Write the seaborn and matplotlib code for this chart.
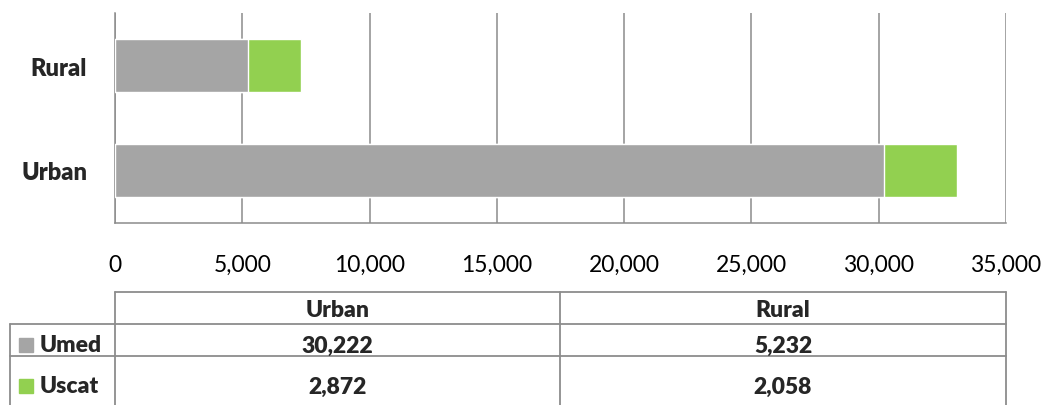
import pandas as pd
import matplotlib.pyplot as plt
import seaborn as sns
from matplotlib.lines import Line2D
from matplotlib.patches import Rectangle
from matplotlib.ticker import FuncFormatter

# =========================
# Data
# =========================
areas = ["Urban", "Rural"]
umed = [30222, 5232]
uscat = [2872, 2058]
series_names = ["Umed", "Uscat"]
series_colors = ["#A5A5A5", "#92D050"]
bar_order = ["Rural", "Urban"]

df = pd.DataFrame({"Area": areas, "Umed": umed, "Uscat": uscat})
df["Total"] = df["Umed"] + df["Uscat"]

# =========================
# Style
# =========================
sns.set_style("white")
plt.rcParams["font.family"] = ["Lato", "DejaVu Sans"]

W, H = 1048, 406
fig = plt.figure(figsize=(W / 100, H / 100), dpi=100)

def fx(px):
    return px / W

def fy(py):
    return 1 - py / H

ax = fig.add_axes([fx(115), fy(224), fx(1006) - fx(115), fy(14) - fy(224)])

# stacked bars: total (green) underneath, Umed (gray) on top
sns.barplot(data=df, y="Area", x="Total", order=bar_order, color=series_colors[1],
            width=0.51, saturation=1, ax=ax, zorder=3)
sns.barplot(data=df, y="Area", x="Umed", order=bar_order, color=series_colors[0],
            width=0.51, saturation=1, ax=ax, zorder=3)

grid_col = "#8C8C8C"
ax.set_xlim(0, 35000)
ax.set_ylim(1.5, -0.5)
ax.set_xticks(range(0, 35001, 5000))
ax.xaxis.set_major_formatter(FuncFormatter(lambda v, p: f"{int(v):,}"))
ax.grid(axis="x", color=grid_col, linewidth=1.1, zorder=0)
ax.set_axisbelow(True)
ax.set_xlabel("")
ax.set_ylabel("")
for s in ["top", "right"]:
    ax.spines[s].set_visible(False)
for s in ["left", "bottom"]:
    ax.spines[s].set_color(grid_col)
    ax.spines[s].set_linewidth(1.1)
ax.tick_params(axis="x", length=0, pad=22, labelsize=16.5, labelcolor="black")
ax.tick_params(axis="y", length=0, pad=20, labelsize=17)
for lbl in ax.get_yticklabels():
    lbl.set_fontweight("heavy")

# =========================
# Data table below the chart
# =========================
line_kw = dict(color=grid_col, linewidth=1.3, transform=fig.transFigure)
y_top, y_r1, y_r2, y_bot = 293, 325, 357, 410
x_left, x_c0, x_c1, x_right = 10, 115, 560, 1006

fig.add_artist(Line2D([fx(x_c0), fx(x_right)], [fy(y_top), fy(y_top)], **line_kw))
for yy in (y_r1, y_r2):
    fig.add_artist(Line2D([fx(x_left), fx(x_right)], [fy(yy), fy(yy)], **line_kw))
for xx in (x_c0, x_c1, x_right):
    fig.add_artist(Line2D([fx(xx), fx(xx)], [fy(y_top), fy(y_bot)], **line_kw))
fig.add_artist(Line2D([fx(x_left), fx(x_left)], [fy(y_r1), fy(y_bot)], **line_kw))

col_centers = [(x_c0 + x_c1) / 2, (x_c1 + x_right) / 2]
for cx, name in zip(col_centers, areas):
    fig.text(fx(cx), fy(311), name, ha="center", va="center",
             fontsize=16.5, fontweight="heavy")

row_centers = [346, 387]
for ry, name, col, vals in zip(row_centers, series_names, series_colors, [umed, uscat]):
    fig.add_artist(Rectangle((fx(19), fy(ry + 7)), fx(14), fy(0) - fy(14),
                             color=col, transform=fig.transFigure))
    fig.text(fx(40), fy(ry), name, ha="left", va="center", fontsize=16.5, fontweight="heavy")
    for cx, v in zip(col_centers, vals):
        fig.text(fx(cx), fy(ry), f"{v:,}", ha="center", va="center",
                 fontsize=16.5, fontweight="heavy")

plt.savefig("out.png", dpi=100)
